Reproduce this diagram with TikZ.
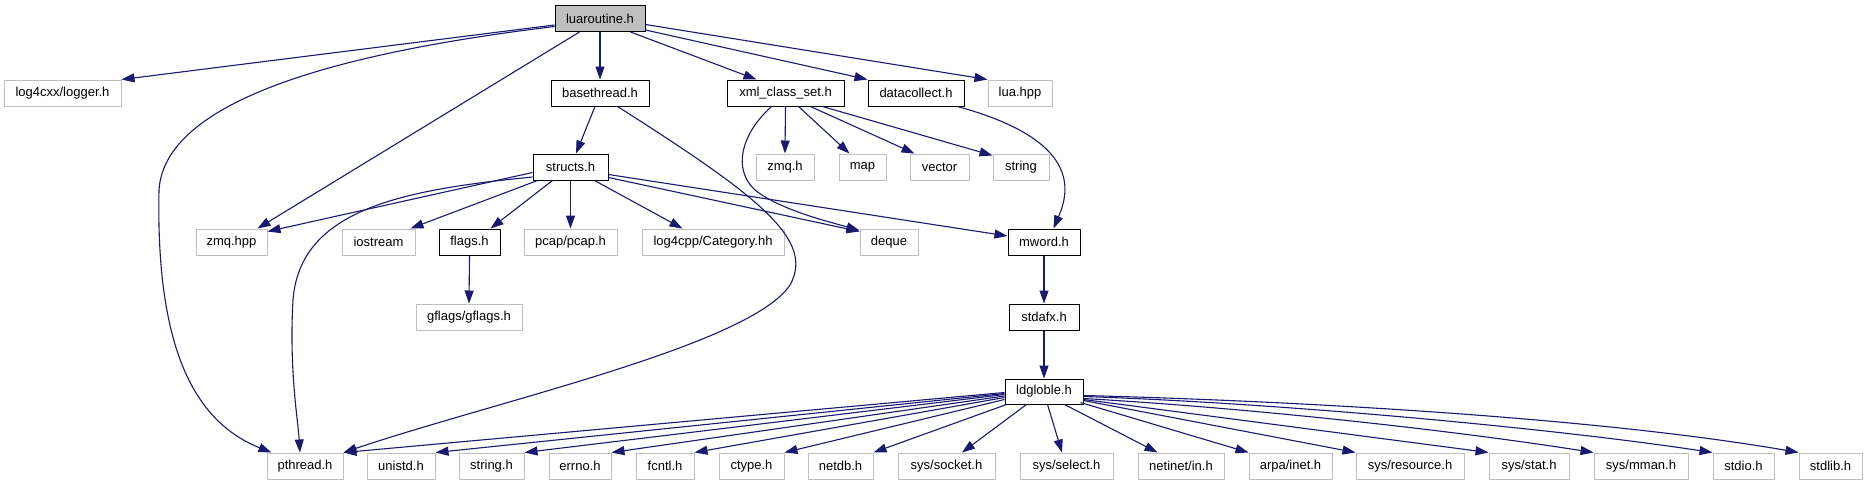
\documentclass[tikz,border=0pt]{standalone}
\usepackage{fontspec}
\setmainfont{Liberation Sans}
\usetikzlibrary{arrows.meta,calc}
\definecolor{edgeblue}{HTML}{191970}
\definecolor{undocgray}{HTML}{BFBFBF}
\begin{document}
\begin{tikzpicture}[x=1pt,y=-1pt,
  gnode/.style={rectangle, inner sep=0pt, minimum height=26pt, line width=1pt, font=\fontsize{13}{15}\selectfont, fill=white},
  docnode/.style={gnode, draw=black},
  undocnode/.style={gnode, draw=undocgray},
  rootnode/.style={gnode, draw=black, fill=undocgray},
  dep/.style={draw=edgeblue, line width=1.1pt, -{Triangle[length=13pt,width=9pt]}}
]
\fill[white] (0,0) rectangle (1868,485);
\useasboundingbox (0,0) rectangle (1868,485);

% row 0
\node[rootnode, minimum width=90pt] (lua) at (600,18.5) {luaroutine.h};
% row 1
\node[undocnode, minimum width=117pt] (log4cxx) at (62.5,93) {log4cxx/logger.h};
\node[docnode, minimum width=98pt] (basethread) at (600,93) {basethread.h};
\node[docnode, minimum width=117pt] (xmlcs) at (785.5,93) {xml\_class\_set.h};
\node[docnode, minimum width=96pt] (datacollect) at (916,93) {datacollect.h};
\node[undocnode, minimum width=64pt] (luahpp) at (1020,93) {lua.hpp};
% row 2
\node[docnode, minimum width=75pt] (structs) at (570.5,167) {structs.h};
\node[undocnode, minimum width=58pt] (zmqh) at (785,167) {zmq.h};
\node[undocnode, minimum width=47pt] (map) at (862.5,167) {map};
\node[undocnode, minimum width=59pt] (vector) at (939.5,167) {vector};
\node[undocnode, minimum width=56pt] (string) at (1021,167) {string};
% row 3
\node[undocnode, minimum width=71pt] (zmqhpp) at (231.5,242) {zmq.hpp};
\node[undocnode, minimum width=73pt] (iostream) at (378.5,242) {iostream};
\node[docnode, minimum width=61pt] (flags) at (469.5,242) {flags.h};
\node[undocnode, minimum width=93pt] (pcap) at (570.5,242) {pcap/pcap.h};
\node[undocnode, minimum width=142pt] (log4cpp) at (713,242) {log4cpp/Category.hh};
\node[undocnode, minimum width=58pt] (deque) at (889,242) {deque};
\node[docnode, minimum width=72pt] (mword) at (1044,242) {mword.h};
% row 4
\node[undocnode, minimum width=106pt] (gflags) at (469,317) {gflags/gflags.h};
\node[docnode, minimum width=70pt] (stdafx) at (1044,317) {stdafx.h};
% row 5
\node[docnode, minimum width=78pt, minimum height=25pt] (ldgloble) at (1044,391.5) {ldgloble.h};
% row 6
\node[undocnode, minimum width=76pt] (pthread) at (305,466) {pthread.h};
\node[undocnode, minimum width=68pt] (unistd) at (401,466) {unistd.h};
\node[undocnode, minimum width=65pt] (stringh) at (491.5,466) {string.h};
\node[undocnode, minimum width=62pt] (errno) at (580,466) {errno.h};
\node[undocnode, minimum width=58pt] (fcntl) at (665,466) {fcntl.h};
\node[undocnode, minimum width=65pt] (ctype) at (751.5,466) {ctype.h};
\node[undocnode, minimum width=65pt] (netdb) at (840.5,466) {netdb.h};
\node[undocnode, minimum width=97pt] (socket) at (946.5,466) {sys/socket.h};
\node[undocnode, minimum width=93pt] (select) at (1066.5,466) {sys/select.h};
\node[undocnode, minimum width=86pt] (netinet) at (1181,466) {netinet/in.h};
\node[undocnode, minimum width=83pt] (arpa) at (1290.5,466) {arpa/inet.h};
\node[undocnode, minimum width=108pt] (resource) at (1410,466) {sys/resource.h};
\node[undocnode, minimum width=80pt] (stat) at (1529,466) {sys/stat.h};
\node[undocnode, minimum width=94pt] (mman) at (1641,466) {sys/mman.h};
\node[undocnode, minimum width=61pt] (stdio) at (1743.5,466) {stdio.h};
\node[undocnode, minimum width=63pt] (stdlib) at (1830.5,466) {stdlib.h};

% luaroutine.h
\draw[dep] ($(lua.west)+(0,6.5)$) -- (log4cxx.north east);
\draw[dep] ($(lua.west)+(0,8)$) .. controls (360,50) and (165,95) .. (159,190) .. controls (156,340) and (190,420) .. ($(pthread.north west)+(5,0)$);
\draw[dep] ($(lua.south west)+(25,0)$) -- ($(zmqhpp.north east)+(-10,0)$);
\draw[dep] (lua.south) -- (basethread.north);
\draw[dep] ($(lua.south east)+(-15,0)$) -- ($(xmlcs.north west)+(30,0)$);
\draw[dep] ($(lua.south east)+(0,-2)$) -- (datacollect.north west);
\draw[dep] ($(lua.east)+(0,6)$) -- (luahpp.north west);

% basethread.h
\draw[dep] ($(basethread.south)+(-5,0)$) -- ($(structs.north)+(5.5,0)$);
\draw[dep] ($(basethread.south east)+(-32,0)$) .. controls (760,197) and (815,240) .. (790,285) .. controls (750,345) and (500,400) .. (pthread.north east);

% structs.h
\draw[dep] ($(structs.west)+(0,5.5)$) -- ($(zmqhpp.north east)+(0,3)$);
\draw[dep] ($(structs.west)+(0,10)$) .. controls (400,190) and (300,210) .. (293,300) .. controls (289,370) and (298,420) .. ($(pthread.north)+(-5,0)$);
\draw[dep] ($(structs.south west)+(5,0)$) -- ($(iostream.north east)+(-5,0)$);
\draw[dep] ($(structs.south west)+(20,0)$) -- ($(flags.north east)+(-10,0)$);
\draw[dep] (structs.south) -- (pcap.north);
\draw[dep] ($(structs.south east)+(-14,0)$) -- ($(log4cpp.north west)+(41,0)$);
\draw[dep] ($(structs.south east)+(0,-3)$) -- ($(deque.north west)+(0,3)$);
\draw[dep] ($(structs.south east)+(0,-6)$) -- ($(mword.west)+(0,-6)$);

% xml_class_set.h
\draw[dep] ($(xmlcs.south west)+(45,0)$) .. controls (740,135) and (733,170) .. (755,190) .. controls (780,210) and (830,222) .. ($(deque.north west)+(0,2)$);
\draw[dep] (xmlcs.south) -- (zmqh.north);
\draw[dep] ($(xmlcs.south)+(13,0)$) -- ($(map.north west)+(11,0)$);
\draw[dep] ($(xmlcs.south)+(25,0)$) -- ($(vector.north west)+(5,0)$);
\draw[dep] ($(xmlcs.south)+(37,0)$) -- ($(string.north west)+(0,2)$);

% datacollect.h
\draw[dep] ($(datacollect.south east)+(-7,0)$) .. controls (1080,140) and (1070,190) .. ($(mword.north east)+(-27,0)$);

% chain
\draw[dep] (flags.south) -- (gflags.north);
\draw[dep] (mword.south) -- (stdafx.north);
\draw[dep] (stdafx.south) -- (ldgloble.north);

% ldgloble.h
\draw[dep] ($(ldgloble.west)+(0,1)$) -- (pthread.north east);
\draw[dep] ($(ldgloble.west)+(0,2)$) -- (unistd.north east);
\draw[dep] ($(ldgloble.west)+(0,3)$) -- (stringh.north east);
\draw[dep] ($(ldgloble.west)+(0,4.5)$) -- (errno.north east);
\draw[dep] ($(ldgloble.west)+(0,6)$) -- (fcntl.north east);
\draw[dep] ($(ldgloble.west)+(0,8)$) -- (ctype.north east);
\draw[dep] ($(ldgloble.south west)+(2,0)$) -- (netdb.north east);
\draw[dep] ($(ldgloble.south west)+(22,0)$) -- ($(socket.north)+(15.5,0)$);
\draw[dep] ($(ldgloble.south west)+(43,0)$) -- ($(select.north)+(-4.5,0)$);
\draw[dep] ($(ldgloble.south west)+(60,0)$) -- ($(netinet.north west)+(20,0)$);
\draw[dep] ($(ldgloble.south east)+(-3,-2)$) -- (arpa.north west);
\draw[dep] ($(ldgloble.east)+(0,9)$) -- (resource.north west);
\draw[dep] ($(ldgloble.east)+(0,8)$) -- (stat.north west);
\draw[dep] ($(ldgloble.east)+(0,7)$) .. controls (1250,408) and (1450,430) .. (mman.north west);
\draw[dep] ($(ldgloble.east)+(0,5)$) .. controls (1280,403) and (1550,428) .. (stdio.north west);
\draw[dep] ($(ldgloble.east)+(0,4)$) .. controls (1300,401) and (1600,418) .. (stdlib.north west);
\end{tikzpicture}
\end{document}
